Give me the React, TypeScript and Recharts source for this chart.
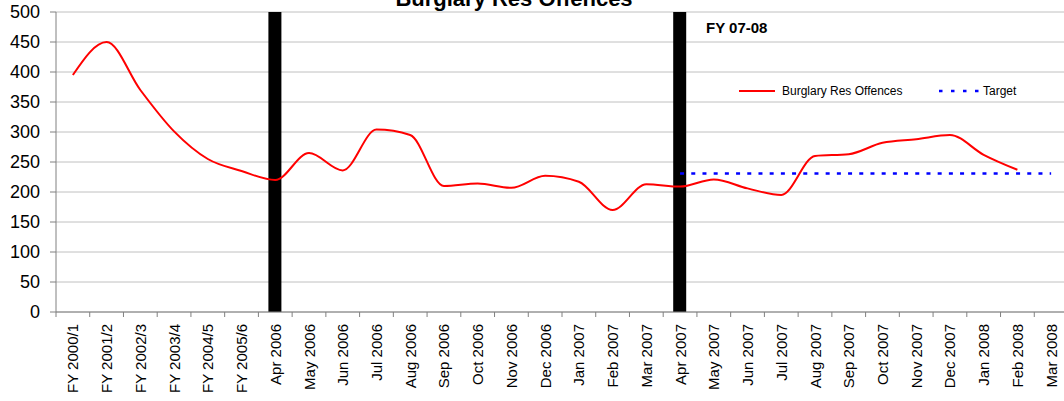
import { Bar, CartesianGrid, ComposedChart, Line, XAxis, YAxis } from 'recharts';

const categories = [
  'FY 2000/1', 'FY 2001/2', 'FY 2002/3', 'FY 2003/4', 'FY 2004/5', 'FY 2005/6',
  'Apr 2006', 'May 2006', 'Jun 2006', 'Jul 2006', 'Aug 2006', 'Sep 2006',
  'Oct 2006', 'Nov 2006', 'Dec 2006', 'Jan 2007', 'Feb 2007', 'Mar 2007',
  'Apr 2007', 'May 2007', 'Jun 2007', 'Jul 2007', 'Aug 2007', 'Sep 2007',
  'Oct 2007', 'Nov 2007', 'Dec 2007', 'Jan 2008', 'Feb 2008', 'Mar 2008',
];

const offences = [
  395, 450, 370, 301, 255, 235,
  220, 265, 236, 304, 295, 210,
  214, 207, 227, 217, 170, 213,
  209, 221, 206, 195, 260, 263,
  282, 288, 295, 262, 237, null,
];

const target = [
  null, null, null, null, null, null,
  null, null, null, null, null, null,
  null, null, null, null, null, null,
  231, 231, 231, 231, 231, 231,
  231, 231, 231, 231, 231, 231,
];

// black year-divider bars
const dividers = [
  null, null, null, null, null, null,
  500, null, null, null, null, null,
  null, null, null, null, null, null,
  500, null, null, null, null, null,
  null, null, null, null, null, null,
];

const yTicks = [0, 50, 100, 150, 200, 250, 300, 350, 400, 450, 500];

const data = categories.map((name, i) => ({
  name,
  offences: offences[i],
  target: target[i],
  divider: dividers[i],
}));

const FONT = '"Liberation Sans", Arial, sans-serif';
const BAND = 1012 / categories.length;

function XTick({ x, y, payload }: any) {
  return (
    <g>
      <line x1={x - BAND / 2} x2={x - BAND / 2} y1={y - 12} y2={y - 7} stroke="#808080" />
      <text
        x={x}
        y={y}
        transform={`rotate(-90, ${x}, ${y})`}
        textAnchor="end"
        dominantBaseline="central"
        fontSize={15}
        fontFamily={FONT}
        fill="#000"
      >
        {payload.value}
      </text>
    </g>
  );
}

function LegendBox() {
  return (
    <svg width={300} height={20} style={{ display: 'block' }}>
      <line x1={0} x2={36} y1={10} y2={10} stroke="#ff0000" strokeWidth={2} />
      <text x={43} y={14} fontSize={12} fontFamily={FONT} fill="#000">
        Burglary Res Offences
      </text>
      <line x1={200} x2={240} y1={10} y2={10} stroke="#0000ff" strokeWidth={2.5} strokeDasharray="3.5 8.5" />
      <text x={244} y={14} fontSize={12} fontFamily={FONT} fill="#000">
        Target
      </text>
    </svg>
  );
}

export default function App() {
  return (
    <div
      style={{
        position: 'absolute',
        left: 0,
        top: 0,
        width: 1064,
        height: 401,
        overflow: 'hidden',
        background: '#fff',
        fontFamily: FONT,
      }}
    >
      <ComposedChart
        width={1080}
        height={401}
        data={data}
        margin={{ top: 12, right: 12, bottom: 0, left: 0 }}
      >
        <CartesianGrid stroke="#c0c0c0" vertical={false} />
        <XAxis
          dataKey="name"
          interval={0}
          height={89}
          tickLine={false}
          tickSize={6}
          tickMargin={6}
          axisLine={{ stroke: '#808080' }}
          tick={<XTick />}
        />
        <YAxis
          domain={[0, 500]}
          ticks={yTicks}
          width={56}
          interval={0}
          tickSize={6}
          tickMargin={10}
          axisLine={{ stroke: '#808080' }}
          tickLine={{ stroke: '#808080' }}
          tick={{ fill: '#000', fontSize: 18, fontFamily: FONT }}
        />
        <Bar dataKey="divider" fill="#000" barSize={13} isAnimationActive={false} />
        <Line
          type="monotone"
          dataKey="offences"
          stroke="#ff0000"
          strokeWidth={2}
          dot={false}
          connectNulls={false}
          isAnimationActive={false}
        />
        <Line
          type="linear"
          dataKey="target"
          stroke="#0000ff"
          strokeWidth={2.5}
          strokeDasharray="4 7.2"
          dot={false}
          isAnimationActive={false}
        />
      </ComposedChart>

      <div
        style={{
          position: 'absolute',
          left: 514,
          top: 10,
          transform: 'translate(-50%, -100%)',
          fontSize: 22,
          fontWeight: 'bold',
          lineHeight: '22px',
          whiteSpace: 'nowrap',
        }}
      >
        Burglary Res Offences
      </div>
      <div
        style={{
          position: 'absolute',
          left: 706,
          top: 20,
          fontSize: 15,
          fontWeight: 'bold',
          lineHeight: '15px',
          whiteSpace: 'nowrap',
        }}
      >
        FY 07-08
      </div>
      <div style={{ position: 'absolute', left: 739, top: 81 }}>
        <LegendBox />
      </div>
    </div>
  );
}
